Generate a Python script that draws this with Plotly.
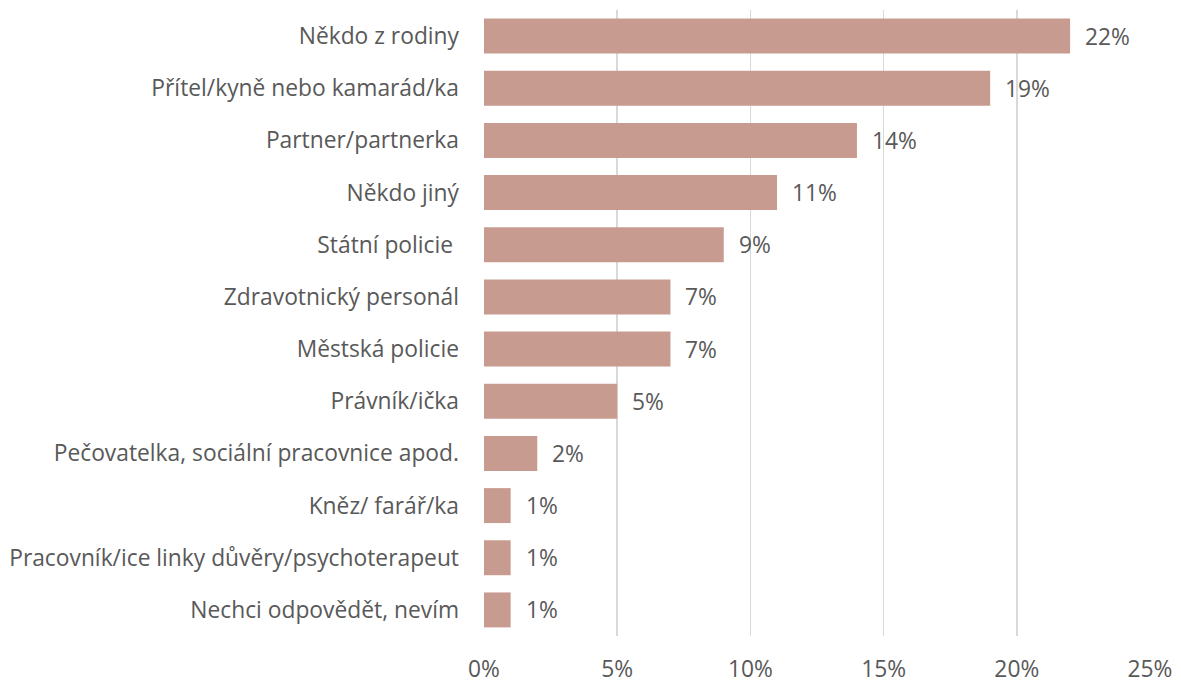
import plotly.graph_objects as go

categories = [
    "Někdo z rodiny",
    "Přítel/kyně nebo kamarád/ka",
    "Partner/partnerka",
    "Někdo jiný",
    "Státní policie ",
    "Zdravotnický personál",
    "Městská policie",
    "Právník/ička",
    "Pečovatelka, sociální pracovnice apod.",
    "Kněz/ farář/ka",
    "Pracovník/ice linky důvěry/psychoterapeut",
    "Nechci odpovědět, nevím",
]
values = [22, 19, 14, 11, 9, 7, 7, 5, 2, 1, 1, 1]
value_labels = [f"{v}%" for v in values]
tick_vals = [0, 5, 10, 15, 20, 25]
tick_text = [f"{t}%" for t in tick_vals]

FONT = "Open Sans"
TXT = "#595959"
FS = 22.8

fig = go.Figure(
    go.Bar(
        x=values,
        y=categories,
        orientation="h",
        marker=dict(color="#C89B90", line=dict(width=0)),
        hoverinfo="skip",
    )
)

for v, c, t in zip(values, categories, value_labels):
    fig.add_annotation(
        x=v, y=c, text=t, xanchor="left", yanchor="middle",
        xshift=13, showarrow=False,
        font=dict(family=FONT, size=FS, color=TXT),
    )

fig.update_layout(
    width=1181,
    height=684,
    margin=dict(l=484, r=31, t=10, b=48),
    paper_bgcolor="white",
    plot_bgcolor="white",
    bargap=0.33,
    showlegend=False,
    font=dict(family=FONT, size=FS, color=TXT),
)
fig.update_xaxes(
    range=[0, 25],
    tickvals=tick_vals,
    ticktext=tick_text,
    showgrid=True,
    gridcolor="#D9D9D9",
    gridwidth=1.5,
    zeroline=False,
    showline=False,
    ticks="",
    automargin=False,
    ticklabelstandoff=17,
    tickfont=dict(family=FONT, size=FS, color=TXT),
)
fig.update_yaxes(
    categoryorder="array",
    categoryarray=categories[::-1],
    showgrid=False,
    zeroline=False,
    showline=False,
    ticks="",
    automargin=False,
    ticklabelstandoff=24,
    tickfont=dict(family=FONT, size=FS, color=TXT),
)

fig.write_html(
    "out.html",
    config={"displayModeBar": False, "staticPlot": True},
    post_script="document.body.style.margin='0';document.body.style.overflow='hidden';",
)
